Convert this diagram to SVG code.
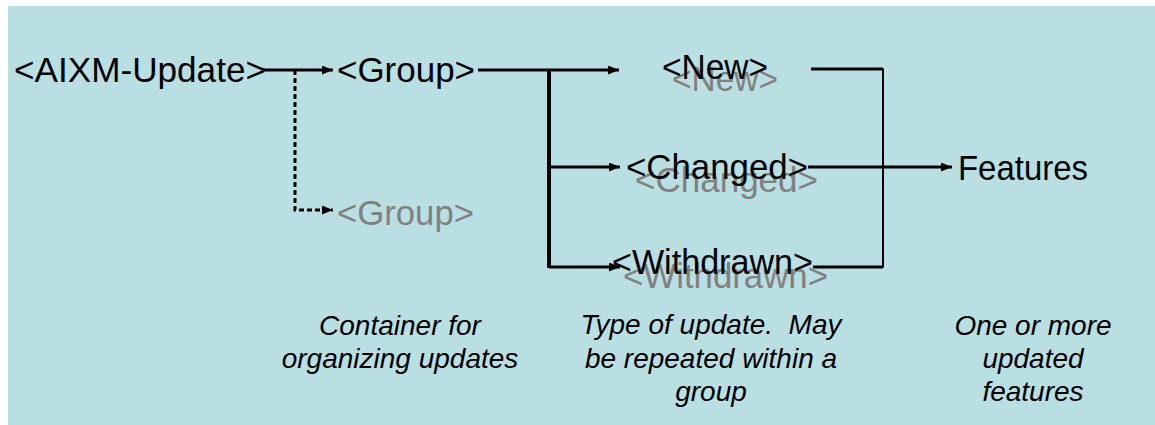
<svg xmlns="http://www.w3.org/2000/svg" width="1155" height="425" viewBox="0 0 1155 425">
  <style>
    .lbl { font-family: "Liberation Sans", Arial, sans-serif; font-size: 35px; fill: #000; }
    .shadow { font-family: "Liberation Sans", Arial, sans-serif; font-size: 35px; fill: #808080; }
    .cap { font-family: "Liberation Sans", Arial, sans-serif; font-size: 28px; font-style: italic; fill: #000; text-anchor: middle; white-space: pre; }
    .ln { stroke: #000; stroke-width: 3; fill: none; }
  </style>
  <defs>
    <marker id="arr" viewBox="0 0 11 9" refX="11" refY="4.5" markerWidth="11" markerHeight="9" markerUnits="userSpaceOnUse" orient="auto">
      <path d="M0,0 L11,4.5 L0,9 Z" fill="#000"/>
    </marker>
  </defs>
  <rect x="8" y="6" width="1147" height="419" fill="#B9DFE3"/>

  <g id="connectors">
    <line class="ln" x1="262" y1="70" x2="333" y2="70" marker-end="url(#arr)"/>
    <path class="ln" d="M295,70 V210 H333" stroke-dasharray="5,3" marker-end="url(#arr)"/>
    <line class="ln" x1="478" y1="70" x2="619" y2="70" marker-end="url(#arr)"/>
    <line x1="549" y1="69" x2="549" y2="268" stroke="#000" stroke-width="4"/>
    <line class="ln" x1="549" y1="167" x2="620" y2="167" marker-end="url(#arr)"/>
    <line class="ln" x1="549" y1="267" x2="620" y2="267" marker-end="url(#arr)"/>
    <path class="ln" d="M811,69 H883"/>
    <path class="ln" d="M813,267 H883"/>
    <line x1="883" y1="68" x2="883" y2="268" stroke="#000" stroke-width="2"/>
    <line class="ln" x1="808" y1="167" x2="952" y2="167" marker-end="url(#arr)"/>
  </g>

  <g id="node-aixm-update">
    <text class="lbl" x="14" y="82" textLength="252" lengthAdjust="spacingAndGlyphs">&lt;AIXM-Update&gt;</text>
  </g>
  <g id="node-group">
    <text class="lbl" x="337" y="82" textLength="138" lengthAdjust="spacingAndGlyphs">&lt;Group&gt;</text>
  </g>
  <g id="node-group-optional">
    <text class="shadow" x="337" y="225" textLength="137" lengthAdjust="spacingAndGlyphs">&lt;Group&gt;</text>
  </g>
  <g id="node-new">
    <text class="shadow" x="672" y="91" textLength="106" lengthAdjust="spacingAndGlyphs">&lt;New&gt;</text>
    <text class="lbl" x="662" y="79" textLength="106" lengthAdjust="spacingAndGlyphs">&lt;New&gt;</text>
  </g>
  <g id="node-changed">
    <text class="shadow" x="635" y="192" textLength="183" lengthAdjust="spacingAndGlyphs">&lt;Changed&gt;</text>
    <text class="lbl" x="626" y="179" textLength="182" lengthAdjust="spacingAndGlyphs">&lt;Changed&gt;</text>
  </g>
  <g id="node-withdrawn">
    <text class="shadow" x="623" y="288" textLength="205" lengthAdjust="spacingAndGlyphs">&lt;Withdrawn&gt;</text>
    <text class="lbl" x="612" y="274" textLength="201" lengthAdjust="spacingAndGlyphs">&lt;Withdrawn&gt;</text>
  </g>
  <g id="node-features">
    <text class="lbl" x="958" y="180" textLength="130" lengthAdjust="spacingAndGlyphs">Features</text>
  </g>

  <g id="captions">
    <text class="cap" x="400" y="335">Container for</text>
    <text class="cap" x="400" y="368">organizing updates</text>
    <text class="cap" x="711" y="334">Type of update.  May</text>
    <text class="cap" x="711" y="368">be repeated within a</text>
    <text class="cap" x="711" y="401">group</text>
    <text class="cap" x="1033" y="335">One or more</text>
    <text class="cap" x="1033" y="368">updated</text>
    <text class="cap" x="1033" y="401">features</text>
  </g>
</svg>
